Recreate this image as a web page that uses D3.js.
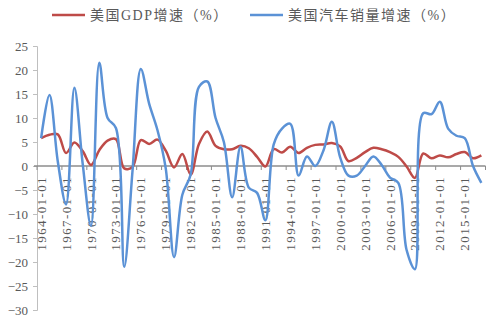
<!DOCTYPE html>
<html>
<head>
<meta charset="utf-8">
<script src="https://cdn.jsdelivr.net/npm/d3@7/dist/d3.min.js"></script>
<style>
  html, body { margin: 0; padding: 0; background: #fff; }
  svg { display: block; }
</style>
</head>
<body>
<div id="chart"></div>
<script>
// Years on the category axis (one point per year)
const years = d3.range(1964, 2018);

// 美国GDP增速（%）
const gdpGrowth = [
  5.8, 6.5, 6.6, 2.7, 4.9, 3.1, 0.2, 3.3, 5.3, 5.6,
  -0.5, -0.2, 5.4, 4.6, 5.5, 3.2, -0.3, 2.5, -1.8, 4.6,
  7.2, 4.2, 3.5, 3.5, 4.2, 3.7, 1.9, -0.1, 3.5, 2.8,
  4.0, 2.7, 3.8, 4.4, 4.5, 4.8, 4.1, 1.0, 1.7, 2.9,
  3.8, 3.5, 2.9, 1.9, -0.1, -2.5, 2.6, 1.6, 2.2, 1.8,
  2.5, 2.9, 1.6, 2.2
];

// 美国汽车销量增速（%）
const autoSalesGrowth = [
  5.8, 14.8, 1.0, -8.0, 16.3, 0.5, -12.5, 21.5, 10.0, 7.9,
  -21.0, -1.0, 20.2, 13.0, 7.5, -0.5, -19.0, -6.0, -1.8, 16.5,
  17.6, 10.0, 5.0, -6.5, 4.0, -4.5, -5.6, -11.3, 4.5, 7.8,
  8.8, -2.0, 2.0, 0.0, 3.3, 9.2, 1.8, -2.0, -2.0, 0.0,
  2.0, 0.2, -2.4, -3.5, -17.5, -21.5, 11.0, 10.8, 13.4, 7.8,
  6.3, 5.8, 0.0, -3.5
];

const yTicks = [25, 20, 15, 10, 5, 0, -5, -10, -15, -20, -25, -30];
const xLabelYears = d3.range(1964, 2018, 3);

const seriesList = [
  { label: '美国GDP增速（%）', color: '#BE4B48', values: gdpGrowth },
  { label: '美国汽车销量增速（%）', color: '#5B92D6', values: autoSalesGrowth }
];

const width = 500;
const height = 323;
const plot = { left: 37, right: 485.5, top: 46, bottom: 310 };
const textColor = '#595959';
const fontFamily = '"Liberation Serif", "Times New Roman", "Noto Sans CJK SC", serif';

const svg = d3.select('#chart')
  .append('svg')
  .attr('width', width)
  .attr('height', height)
  .attr('viewBox', `0 0 ${width} ${height}`);

const x = d3.scaleBand().domain(years).range([plot.left, plot.right]).paddingInner(0).paddingOuter(0);
const cx = (yr) => x(yr) + x.bandwidth() / 2;
const y = d3.scaleLinear().domain([-30, 25]).range([plot.bottom, plot.top]);

/* Y axis */
const yAxis = svg.append('g')
  .attr('transform', `translate(${plot.left},0)`)
  .call(d3.axisLeft(y).tickValues(yTicks).tickSize(4).tickPadding(5).tickFormat(d3.format('d')));
yAxis.select('.domain').attr('stroke', '#BFBFBF').attr('stroke-width', 1);
yAxis.selectAll('.tick line').attr('stroke', '#BFBFBF');
yAxis.selectAll('text')
  .attr('fill', textColor)
  .attr('font-size', 13)
  .attr('font-family', fontFamily);

/* X axis at zero, ticks on category boundaries every 3 years */
const xAxisG = svg.append('g').attr('transform', `translate(0,${y(0)})`);
xAxisG.append('line')
  .attr('x1', plot.left - 3)
  .attr('x2', plot.right)
  .attr('stroke', '#8C8C8C')
  .attr('stroke-width', 1.5);
xAxisG.selectAll('line.tick')
  .data(xLabelYears.concat([null]))
  .join('line')
  .attr('class', 'tick')
  .attr('x1', (d) => (d === null ? plot.right : x(d)))
  .attr('x2', (d) => (d === null ? plot.right : x(d)))
  .attr('y1', 0)
  .attr('y2', 4)
  .attr('stroke', '#8C8C8C');

xAxisG.selectAll('text.label')
  .data(xLabelYears)
  .join('text')
  .attr('class', 'label')
  .attr('transform', (d) => `translate(${cx(d)},10) rotate(-90)`)
  .attr('dy', '0.35em')
  .attr('text-anchor', 'end')
  .attr('fill', textColor)
  .attr('font-size', 13)
  .attr('letter-spacing', 1.4)
  .attr('font-family', fontFamily)
  .text((d) => `${d}-01-01`);

/* Lines */
const line = d3.line()
  .x((d, i) => cx(years[i]))
  .y((d) => y(d))
  .curve(d3.curveCatmullRom.alpha(0.5));

seriesList.forEach((s) => {
  svg.append('path')
    .datum(s.values)
    .attr('fill', 'none')
    .attr('stroke', s.color)
    .attr('stroke-width', 2.5)
    .attr('stroke-linejoin', 'round')
    .attr('d', line);
});

/* Legend */
const legendPos = [{ x: 52, y: 15 }, { x: 250, y: 15 }];
const legend = svg.append('g');
seriesList.forEach((s, i) => {
  const g = legend.append('g').attr('transform', `translate(${legendPos[i].x},${legendPos[i].y})`);
  g.append('line')
    .attr('x1', 0).attr('x2', 33)
    .attr('stroke', s.color)
    .attr('stroke-width', 2.5);
  g.append('text')
    .attr('x', 38)
    .attr('dy', '0.35em')
    .attr('fill', textColor)
    .attr('font-size', 14)
    .attr('letter-spacing', 1.5)
    .attr('font-family', fontFamily)
    .text(s.label);
});
</script>
</body>
</html>
